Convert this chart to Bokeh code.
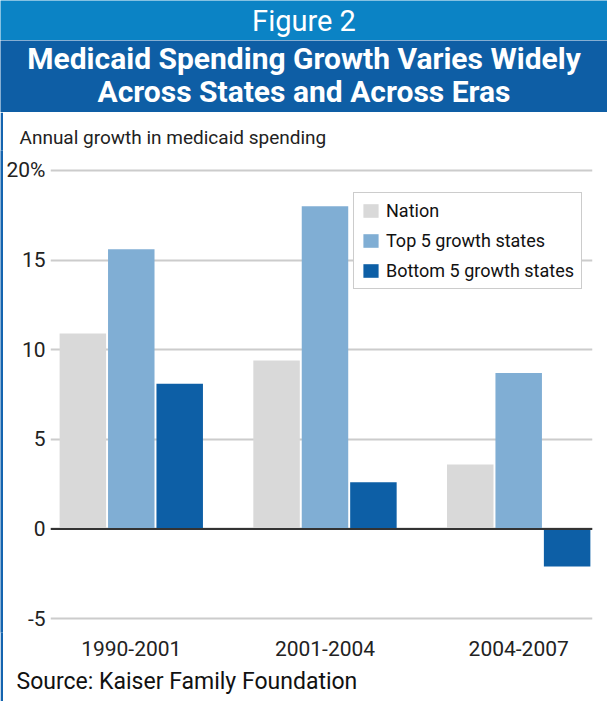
from bokeh.plotting import figure
from bokeh.models import (Range1d, FixedTicker, Legend, LegendItem, Span, Title,
                          Label, ColumnDataSource)
from bokeh.layouts import column, row
from bokeh.transform import dodge
from bokeh.embed import file_html
from bokeh.resources import INLINE

# ---- data ----
periods = ["1990-2001", "2001-2004", "2004-2007"]
nation = [10.9, 9.4, 3.6]
top5 = [15.6, 18.0, 8.7]
bottom5 = [8.1, 2.6, -2.1]
series_names = ["Nation", "Top 5 growth states", "Bottom 5 growth states"]
y_ticks = [-5, 0, 5, 10, 15, 20]
y_tick_labels = ["-5", "0", "5", "10", "15", "20%"]
fig_label = "Figure 2"
title_lines = ["Medicaid Spending Growth Varies Widely", "Across States and Across Eras"]
y_title = "Annual growth in medicaid spending"
source_note = "Source:  Kaiser Family Foundation"

# ---- styles ----
LIGHT_BAND = "#0B83C5"
DARK_BAND = "#0E5EA5"
STRIP = "#1464AF"
C_NATION = "#D9D9D9"
C_TOP = "#80AED4"
C_BOTTOM = "#0D5FA6"
FONT = "Roboto"
TOTAL_W = 607


def band(height, color):
    f = figure(width=TOTAL_W, height=height, x_range=Range1d(0, 1), y_range=Range1d(0, 1),
               output_backend="svg", toolbar_location=None, x_axis_type=None, y_axis_type=None,
               min_border=0, background_fill_color=color, border_fill_color=color,
               outline_line_color=None)
    f.xgrid.visible = False
    f.ygrid.visible = False
    return f


h1 = band(40, LIGHT_BAND)
h1.add_layout(Label(x=0.5, y=0.5, text=fig_label, text_align="center", text_baseline="middle",
                    text_color="white", text_font=FONT, text_font_size="29px"))

h2 = band(72, DARK_BAND)
for txt, yy in zip(title_lines, [0.75, 0.29]):
    h2.add_layout(Label(x=0.5, y=yy, text=txt, text_align="center", text_baseline="middle",
                        text_color="white", text_font=FONT, text_font_size="30px",
                        text_font_style="bold"))

strip = figure(width=3, height=589, output_backend="svg", toolbar_location=None,
               x_axis_type=None, y_axis_type=None, min_border=0,
               background_fill_color=STRIP, border_fill_color=STRIP, outline_line_color=None)
strip.xgrid.visible = False
strip.ygrid.visible = False

p = figure(width=604, height=589, output_backend="svg", toolbar_location=None,
           x_range=Range1d(0.083, 2.881), y_range=Range1d(-5.781, 21.116),
           min_border_left=45, min_border_right=15, min_border_top=38, min_border_bottom=69,
           outline_line_color=None, background_fill_color="white", border_fill_color="white")

src = ColumnDataSource(dict(x=[i + 0.5 for i in range(len(periods))],
                            nation=nation, top5=top5, bottom5=bottom5))
r1 = p.vbar(x=dodge("x", -0.25, range=p.x_range), top="nation", width=0.24, source=src,
            fill_color=C_NATION, line_color=None)
r2 = p.vbar(x=dodge("x", 0.0, range=p.x_range), top="top5", width=0.24, source=src,
            fill_color=C_TOP, line_color=None)
r3 = p.vbar(x=dodge("x", 0.25, range=p.x_range), top="bottom5", width=0.24, source=src,
            fill_color=C_BOTTOM, line_color=None)

p.add_layout(Span(location=0, dimension="width", line_color="#333333", line_width=2))

p.ygrid.ticker = FixedTicker(ticks=y_ticks)
p.ygrid.grid_line_color = "#CCCCCC"
p.ygrid.grid_line_width = 2
p.xgrid.visible = False

for ax in (p.xaxis, p.yaxis):
    ax.axis_line_color = None
    ax.major_tick_line_color = None
    ax.minor_tick_line_color = None
    ax.major_tick_out = 0
    ax.major_tick_in = 0
    ax.minor_tick_out = 0
    ax.minor_tick_in = 0
    ax.major_label_text_font = FONT
    ax.major_label_text_color = "#222222"

p.yaxis.ticker = FixedTicker(ticks=y_ticks)
p.yaxis.major_label_overrides = {t: l for t, l in zip(y_ticks, y_tick_labels)}
p.yaxis.major_label_standoff = 5
p.yaxis.major_label_text_font_size = "21px"

p.xaxis.ticker = FixedTicker(ticks=[i + 0.5 for i in range(len(periods))])
p.xaxis.major_label_overrides = {i + 0.5: lab for i, lab in enumerate(periods)}
p.xaxis.major_label_standoff = 8
p.xaxis.major_label_text_font_size = "21px"

p.add_layout(Title(text=y_title, align="left", offset=-31, standoff=4,
                   text_font=FONT, text_font_size="19px", text_font_style="normal",
                   text_color="#222222"), "above")
p.add_layout(Title(text=source_note, align="left", offset=-34, standoff=14,
                   text_font=FONT, text_font_size="23px", text_font_style="normal",
                   text_color="#111111"), "below")

legend = Legend(items=[LegendItem(label=series_names[0], renderers=[r1]),
                       LegendItem(label=series_names[1], renderers=[r2]),
                       LegendItem(label=series_names[2], renderers=[r3])],
                location=(303, 343), orientation="vertical",
                border_line_color="#999999", border_line_width=1,
                background_fill_color="white", background_fill_alpha=1.0,
                padding=7, spacing=9, margin=0, glyph_width=19, glyph_height=17,
                label_standoff=6, label_text_font=FONT, label_text_font_size="18px",
                label_text_color="#111111")
p.add_layout(legend)

layout = column(h1, h2, row(strip, p, spacing=0), spacing=0)

open("out.html", "w").write(file_html(layout, INLINE))
